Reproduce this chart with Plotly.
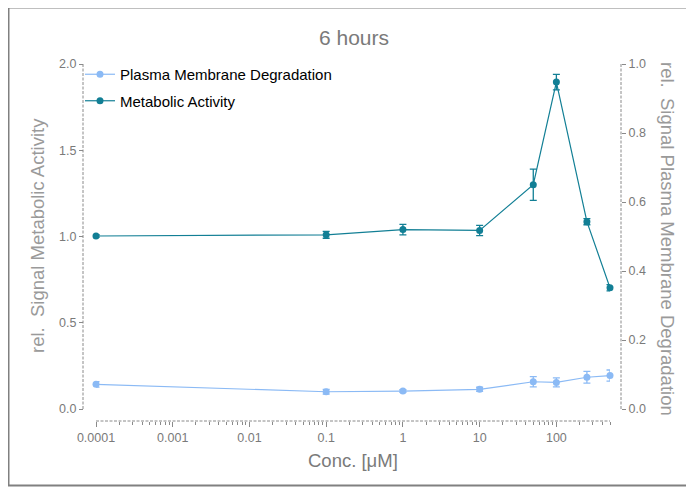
import plotly.graph_objects as go
import math

W, H = 694, 487
OFF = 8  # page body margin offset

conc = [0.0001, 0.1, 1, 10, 50, 100, 250, 500]
metabolic = [1.003, 1.01, 1.04, 1.035, 1.30, 1.895, 1.086, 0.703]
metabolic_err = [0.008, 0.02, 0.03, 0.03, 0.09, 0.045, 0.018, 0.018]
plasma = [0.0715, 0.050, 0.052, 0.057, 0.079, 0.077, 0.092, 0.097]
plasma_err = [0.008, 0.007, 0.004, 0.006, 0.015, 0.013, 0.017, 0.016]

x_tickvals = [0.0001, 0.001, 0.01, 0.1, 1, 10, 100]
x_ticktext = ["0.0001", "0.001", "0.01", "0.1", "1", "10", "100"]
x_minor = [m * d for d in x_tickvals for m in range(2, 10) if m * d <= 500]
left_ticks = [0.0, 0.5, 1.0, 1.5, 2.0]
right_ticks = [0.0, 0.2, 0.4, 0.6, 0.8, 1.0]

c_met = "#127f95"
c_pla = "#8bbaf5"
gray = "#8a8a8a"
font_family = "Liberation Sans, Arial, sans-serif"


def fx(px):
    return (px - OFF) / W


def fy(py):
    return 1 - (py - OFF) / H


fig = go.Figure()
fig.add_trace(go.Scatter(
    x=conc, y=plasma, name="Plasma Membrane Degradation", yaxis="y2",
    mode="lines+markers", legendgroup="a", cliponaxis=False,
    line=dict(color=c_pla, width=1.2), marker=dict(color=c_pla, size=7),
    error_y=dict(type="data", array=plasma_err, color=c_pla, thickness=1.3, width=3.5),
))
fig.add_trace(go.Scatter(
    x=conc, y=metabolic, name="Metabolic Activity", yaxis="y",
    mode="lines+markers", legendgroup="b", cliponaxis=False,
    line=dict(color=c_met, width=1.2), marker=dict(color=c_met, size=7),
    error_y=dict(type="data", array=metabolic_err, color=c_met, thickness=1.3, width=3.5),
))

tickfont = dict(family=font_family, size=12.5, color="#7a7a7a")

fig.update_layout(
    width=W, height=H,
    margin=dict(l=0, r=0, t=0, b=0),
    paper_bgcolor="white", plot_bgcolor="white",
    font=dict(family=font_family),
    showlegend=True,
    legend=dict(x=fx(80), y=fy(58), xanchor="left", yanchor="top",
                font=dict(size=15, color="black", family=font_family),
                tracegroupgap=4, bgcolor="rgba(0,0,0,0)"),
    title=dict(text="6 hours", x=fx(354), y=fy(38), xanchor="center", yanchor="middle",
               xref="paper", yref="container",
               font=dict(size=21, color="#7a7a7a", family=font_family)),
    xaxis=dict(type="log", domain=[fx(96), fx(610)],
               range=[math.log10(0.0001), math.log10(500)],
               anchor="free", position=fy(421),
               tickmode="array", tickvals=x_tickvals, ticktext=x_ticktext,
               ticks="outside", ticklen=5, tickcolor=gray, tickwidth=1,
               showgrid=False, zeroline=False, showline=False,
               tickfont=tickfont, automargin=False,
               minor=dict(tickmode="array", tickvals=x_minor, ticks="outside",
                          ticklen=2.5, tickcolor=gray, showgrid=False)),
    yaxis=dict(domain=[fy(409), fy(64)], range=[0, 2.0],
               anchor="free", position=fx(83),
               tickmode="array", tickvals=left_ticks,
               ticktext=[f"{v:.1f}" for v in left_ticks],
               ticks="outside", ticklen=4, tickcolor=gray,
               showgrid=False, zeroline=False, showline=False,
               tickfont=tickfont, automargin=False),
    yaxis2=dict(domain=[fy(409), fy(64)], range=[0, 1.0],
                overlaying="y", side="right",
                anchor="free", position=fx(621),
                tickmode="array", tickvals=right_ticks,
                ticktext=[f"{v:.1f}" for v in right_ticks],
                ticks="outside", ticklen=4, tickcolor=gray,
                showgrid=False, zeroline=False, showline=False,
                tickfont=tickfont, automargin=False),
)

axis_line = dict(color=gray, width=1, dash="3px,1.5px")
fig.add_shape(type="line", xref="paper", yref="paper",
              x0=fx(83), x1=fx(83), y0=fy(409), y1=fy(64), line=axis_line)
fig.add_shape(type="line", xref="paper", yref="paper",
              x0=fx(621), x1=fx(621), y0=fy(409), y1=fy(64), line=axis_line)
fig.add_shape(type="line", xref="paper", yref="paper",
              x0=fx(96), x1=fx(610), y0=fy(421), y1=fy(421), line=axis_line)
# figure frame
fig.add_shape(type="rect", xref="paper", yref="paper",
              x0=fx(8.5), x1=fx(710), y0=fy(485.5), y1=fy(7.5),
              line=dict(color="#808080", width=2))

title_font = dict(family=font_family, size=18.5, color="#9a9a9a")
fig.add_annotation(text="rel.\u00a0 Signal Metabolic Activity", x=fx(37), y=fy(236),
                   xref="paper", yref="paper", showarrow=False, textangle=-90,
                   xanchor="center", yanchor="middle", font=title_font)
fig.add_annotation(text="rel.\u00a0 Signal Plasma Membrane Degradation", x=fx(668), y=fy(239),
                   xref="paper", yref="paper", showarrow=False, textangle=90,
                   xanchor="center", yanchor="middle", font=title_font)
fig.add_annotation(text="Conc. [μM]", x=fx(353), y=fy(460),
                   xref="paper", yref="paper", showarrow=False,
                   xanchor="center", yanchor="middle",
                   font=dict(family=font_family, size=18.5, color="#7a7a7a"))

fig.write_html("out.html")
